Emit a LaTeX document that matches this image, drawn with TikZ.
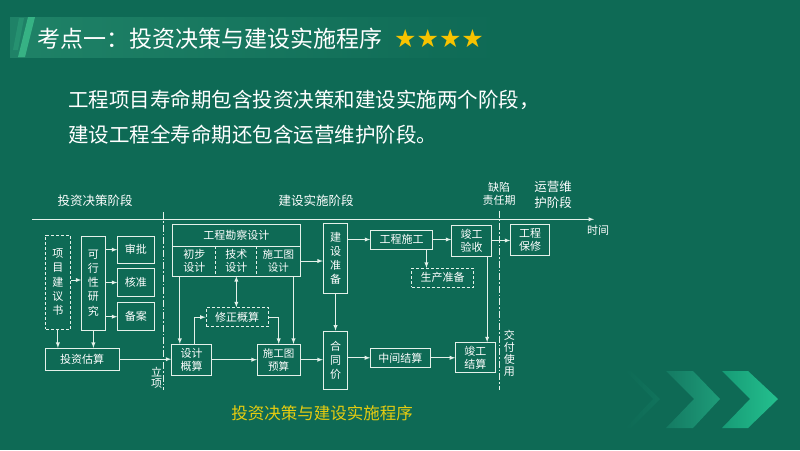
\documentclass[tikz,border=0pt]{standalone}
\usepackage{fontspec}
\newfontfamily\cjk{Noto Sans CJK SC}
\newfontfamily\sym{DejaVu Sans}
\usetikzlibrary{arrows}
\definecolor{bgc}{HTML}{0E6A55}
\definecolor{barc}{HTML}{1F8267}
\definecolor{linec}{HTML}{E4F1EA}
\definecolor{starc}{HTML}{F7C300}
\definecolor{capc}{HTML}{E6CC10}
\definecolor{stripec}{HTML}{3DBF8C}
\definecolor{cha}{HTML}{11735C}
\definecolor{chb}{HTML}{147A62}
\definecolor{chc}{HTML}{1E9C79}
\definecolor{chd}{HTML}{179B76}
\definecolor{che}{HTML}{24C08E}

\begin{document}
\begin{tikzpicture}[x=1pt,y=-1pt,
  ln/.style={draw=linec, line width=0.9pt},
  box/.style={ln, inner sep=0pt, align=center, text=white, font=\cjk\fontsize{11}{13.3}\selectfont},
  dbox/.style={box, dash pattern=on 3pt off 2pt},
  vbox/.style={box, font=\cjk\fontsize{11}{14.2}\selectfont},
  cell/.style={inner sep=0pt, align=center, text=white, font=\cjk\fontsize{11}{13.3}\selectfont},
  sz/.style 2 args={minimum width=#1pt, minimum height=#2pt},
  arr/.style={ln, -latex},
  phase/.style={ln, dash pattern=on 7pt off 2pt on 1.5pt off 2pt},
  lbl/.style={text=white, align=center, inner sep=0pt, font=\cjk\fontsize{12.5}{16}\selectfont}]
  % background
  \useasboundingbox (0,0) rectangle (800,450);
  \fill[bgc] (0,0) rectangle (800,450);
  \shade[left color=barc, right color=bgc] (10,17) rectangle (500,57);
  \fill[stripec, opacity=0.25] (13,50) -- (19,18) -- (24,18) -- (18,50) -- cycle;
  \fill[stripec, opacity=0.8] (18,57) -- (28,17) -- (35,17) -- (25,57) -- cycle;
  \shade[left color=bgc, right color=cha] (625,371) -- (631,371) -- (660,399) -- (631,428) -- (625,428) -- (653,399) -- cycle;
  \shade[left color=chb, right color=chc] (666,371) -- (693,371) -- (720,399) -- (693,428) -- (666,428) -- (694,399) -- cycle;
  \shade[left color=chd, right color=che] (722,371) -- (748,371) -- (778,399) -- (748,428) -- (722,428) -- (750,399) -- cycle;

  % title and text
  \node[anchor=west, inner sep=0pt, text=white, font=\cjk\fontsize{23}{24}\selectfont] (ttl) at (37,39) {考点一：投资决策与建设实施程序};
  \node[anchor=west, inner sep=0pt, text=starc, font=\sym\fontsize{25}{25}\selectfont] (stars) at (394,39) {★★★★};
  \node[anchor=west, inner sep=0pt, text=white, font=\cjk\fontsize{20.5}{22}\selectfont] (l1) at (68,100) {工程项目寿命期包含投资决策和建设实施两个阶段，};
  \node[anchor=west, inner sep=0pt, text=white, font=\cjk\fontsize{20.5}{22}\selectfont] (l2) at (68,135) {建设工程全寿命期还包含运营维护阶段。};
  \node[inner sep=0pt, text=capc, font=\cjk\fontsize{16.5}{18}\selectfont] (cap) at (322,413) {投资决策与建设实施程序};

  % time axis and phases
  \coordinate (t0) at (32,219.3);
  \coordinate (t1) at (594,219.3);
  \draw[arr] (t0) -- (t1);
  \node[lbl, font=\cjk\fontsize{11}{13}\selectfont] (time) at (598,230.7) {时间};
  \node[lbl] (ph1) at (95,200.5) {投资决策阶段};
  \node[lbl] (ph2) at (316,200.5) {建设实施阶段};
  \node[lbl, font=\cjk\fontsize{11}{13.3}\selectfont] (ph3) at (499,193.5) {缺陷\\责任期};
  \node[lbl] (ph4) at (553,194.7) {运营维\\护阶段};
  \coordinate (s0) at (163.3,212);
  \coordinate (s1) at (163.3,390);
  \coordinate (e0) at (499,210.5);
  \coordinate (e1) at (499,390);
  \draw[phase] (s0) -- (s1);
  \draw[phase] (e0) -- (e1);
  \node[lbl, font=\cjk\fontsize{11}{10.5}\selectfont] (lx) at (156.5,378) {立\\项};
  \node[lbl, font=\cjk\fontsize{11}{12.2}\selectfont] (jf) at (509.3,353.3) {交\\付\\使\\用};

  % decision stage
  \node[vbox, dash pattern=on 3pt off 2pt, sz={24.3}{94.3}] (jys) at (57.9,282.2) {项\\目\\建\\议\\书};
  \node[vbox, sz={23.3}{94}] (kxx) at (93.4,283) {可\\行\\性\\研\\究};
  \node[box, sz={36.3}{27.3}] (sp) at (135.9,249.7) {审批};
  \node[box, sz={36.3}{28.4}] (hz) at (135.9,282.5) {核准};
  \node[box, sz={36.3}{28}] (ba) at (135.9,316.7) {备案};
  \node[box, sz={74.3}{21.7}] (tzgs) at (82.2,359.2) {投资估算};

  % design
  \node[cell, sz={127.3}{21.7}] (kc) at (236.4,235.2) {工程勘察设计};
  \node[cell, sz={43.3}{30}] (cb) at (194.35,261) {初步\\设计};
  \node[cell, sz={40.7}{30}] (js) at (236.35,261) {技术\\设计};
  \node[cell, sz={43.3}{30}, font=\cjk\fontsize{10.5}{13.3}\selectfont] (sg) at (278.35,261) {施工图\\设计};
  \draw[ln] (kc.north west) rectangle (sg.south east);
  \draw[ln] (kc.south west) -- (kc.south east);
  \draw[ln, dash pattern=on 3pt off 2pt] (js.north west) -- (js.south west) (js.north east) -- (js.south east);
  \node[dbox, sz={62.3}{19}] (xzgs) at (237.2,317.2) {修正概算};
  \node[box, sz={40}{30.7}] (sjgs) at (191.7,359.7) {设计\\概算};
  \node[box, sz={42.7}{30.7}, font=\cjk\fontsize{10.5}{13.3}\selectfont] (sgys) at (278.7,359.7) {施工图\\预算};

  % construction
  \node[vbox, sz={24.4}{70}] (jszb) at (335.5,258.3) {建\\设\\准\\备};
  \node[vbox, sz={24.4}{58.3}] (htj) at (335.5,360.2) {合\\同\\价};
  \node[box, sz={62}{19}] (gcsg) at (401.7,239.5) {工程施工};
  \node[dbox, sz={61.6}{19}] (sczb) at (442.5,277.8) {生产准备};
  \node[box, sz={40}{31}] (jgys) at (471.7,240.5) {竣工\\验收};
  \node[box, sz={38.6}{30.7}] (gcbx) at (530,239.7) {工程\\保修};
  \node[box, sz={59.3}{19}] (zjjs) at (400.3,357.8) {中间结算};
  \node[box, sz={39.3}{30}] (jgjs) at (475.3,357.7) {竣工\\结算};

  % connectors
  \draw[arr] (jys.east |- 0,280) -- (kxx.west |- 0,280);
  \draw[arr] (kxx.east |- sp) -- (sp.west);
  \draw[arr] (kxx.east |- hz) -- (hz.west);
  \draw[arr] (kxx.east |- ba) -- (ba.west);
  \draw[arr] (jys.south) -- (jys.south |- tzgs.north);
  \draw[arr] (kxx.south) -- (kxx.south |- tzgs.north);
  \draw[arr] (tzgs.east) -- (tzgs.east -| sjgs.west);
  \draw[arr] ([xshift=7.3pt]cb.south west) -- ([xshift=7.3pt]cb.south west |- sjgs.north);
  \draw[arr] ([xshift=-6.7pt]sg.south east) -- ([xshift=-6.7pt]sg.south east |- sgys.north);
  \draw[latex-latex, ln] (js.south) -- (js.south |- xzgs.north);
  \draw[arr] ([xshift=2.6pt]sjgs.north) |- (xzgs.west);
  \draw[arr] (xzgs.east) -| (sgys.north);
  \draw[arr] (sjgs.east) -- (sjgs.east -| sgys.west);
  \draw[arr] (sgys.east) -- (sgys.east -| htj.west);
  \draw[arr] (sg.east) -- (sg.east -| jszb.west);
  \draw[arr] (jszb.south) -- (htj.north);
  \draw[arr] (jszb.east |- gcsg) -- (gcsg.west);
  \draw[arr] (gcsg.east) -- (gcsg.east -| jgys.west);
  \draw[arr] ([xshift=-6.7pt]gcsg.south east) -- ([xshift=-6.7pt]gcsg.south east |- sczb.north);
  \draw[arr] (jgys.east) -- (jgys.east -| gcbx.west);
  \draw[arr] ([xshift=-5pt]jgys.south east) -- ([xshift=-5pt]jgys.south east |- jgjs.north);
  \draw[arr] (htj.east |- zjjs) -- (zjjs.west);
  \draw[arr] (zjjs.east) -- (zjjs.east -| jgjs.west);
\end{tikzpicture}
\end{document}
